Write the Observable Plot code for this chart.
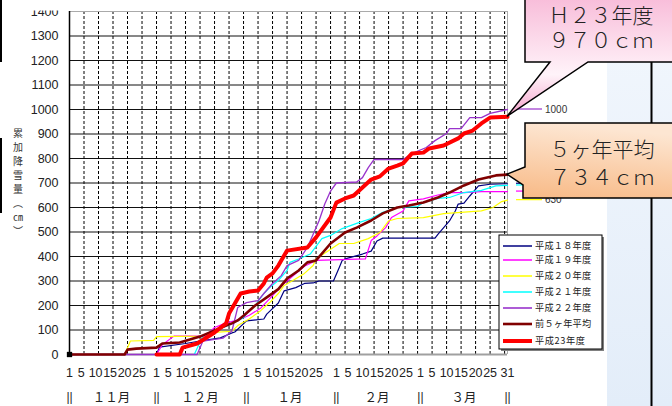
<!DOCTYPE html>
<html><head><meta charset="utf-8">
<script src="https://cdn.jsdelivr.net/npm/d3@7"></script>
<script src="https://cdn.jsdelivr.net/npm/@observablehq/plot@0.6"></script>
<style>
html,body{margin:0;padding:0;background:#fff;}
#chart{width:672px;height:406px;overflow:hidden;}
</style></head><body><div id="chart"></div>
<script>
// x = day index from Nov 1 (0) to Mar 31 (151)
const monthNames = ["１１月","１２月","１月","２月","３月"];
const monthStart = [0, 30, 61, 92, 121];
const monthLen = [30, 31, 31, 29, 31];
const dayLabels = [1, 5, 10, 15, 20, 25];
const yTicks = [0,100,200,300,400,500,600,700,800,900,1000,1100,1200,1300,1400];

const seriesNames = ["平成１８年度","平成１９年度","平成２０年度","平成２１年度","平成２２年度","前５ヶ年平均","平成23年度"];
const seriesColors = ["#000080","#ff00ff","#ffff00","#00ffff","#9933cc","#800000","#ff0000"];
const seriesWidths = [1.2,1.2,1.2,1.2,1.3,2.6,4];

const h18Days = [0,30,31,40,45,52,56,57,61,67,68,72,74,78,81,84,86,91,93,94,95,101,104,106,108,126,127,131,133,134,136,138,141,145,151];
const h18Vals = [0,0,30,45,55,68,88,92,137,145,165,210,260,273,290,292,300,300,355,384,390,410,422,463,475,475,490,545,586,614,618,647,688,695,697];

const h19Days = [0,30,32,36,47,50,54,58,62,66,70,74,78,81,85,102,104,106,109,111,115,117,122,127,131,136,142,151];
const h19Vals = [0,0,40,75,75,110,129,140,160,190,240,290,330,360,384,390,465,484,518,559,586,627,635,651,661,661,665,665];

const h20Days = [0,19,21,29,30,45,50,56,58,62,66,69,72,74,77,81,84,85,93,98,103,107,110,113,122,129,142,146,149,151];
const h20Vals = [0,0,55,58,73,75,90,95,118,145,180,212,249,282,302,331,363,390,453,453,473,498,545,555,559,575,586,600,624,630];

const h21Days = [0,43,46,50,55,60,62,64,67,69,72,75,76,79,83,87,90,94,99,104,108,113,120,122,127,131,136,142,147,151];
const h21Vals = [0,0,76,100,120,150,180,200,249,273,302,343,376,390,410,473,486,514,535,555,580,600,604,620,637,641,661,670,688,690];

const h22Days = [0,44,46,53,56,58,61,65,67,70,73,75,79,82,86,88,90,92,99,101,103,105,115,118,123,126,130,131,135,138,142,145,151];
const h22Vals = [0,0,55,67,96,192,212,220,249,290,322,363,384,437,545,614,667,700,704,722,763,796,796,820,845,873,902,922,922,967,967,984,1000];

const avgDays = [0,19,20,23,30,32,38,45,50,54,56,58,60,64,68,72,75,79,82,85,90,95,99,104,108,113,117,122,127,131,136,141,147,151];
const avgVals = [0,0,20,24,28,45,49,73,98,118,127,139,158,200,233,267,310,343,376,384,453,498,518,547,576,600,608,620,641,661,690,714,731,734];

const h23Days = [30,38,39,44,50,54,55,57,59,62,65,67,68,70,72,73,75,82,85,90,92,95,98,101,104,107,110,113,115,118,122,124,129,134,136,139,142,145,151];
const h23Vals = [0,0,28,45,90,127,167,208,249,257,261,290,314,331,363,384,424,437,478,559,620,637,649,682,714,727,759,771,780,820,824,841,853,882,902,914,943,967,970];

// visible end-of-season data labels
const endLabelSeries = [2, 4];
const endLabels = ["630", "1000"];
const calloutH23 = ["Ｈ２３年度", "９７０ｃｍ"];
const calloutAvg = ["５ヶ年平均", "７３４ｃｍ"];

const allDays = [h18Days,h19Days,h20Days,h21Days,h22Days,avgDays,h23Days];
const allVals = [h18Vals,h19Vals,h20Vals,h21Vals,h22Vals,avgVals,h23Vals];
const series = allDays.map((ds, k) => ds.map((d, i) => ({d, v: allVals[k][i], k})));

const xTickData = [];
monthStart.forEach((s, m) => dayLabels.forEach(dl => xTickData.push({d: s + dl - 1, t: String(dl)})));
xTickData.push({d: 151, t: "31"});
const monthData = monthNames.map((n, m) => ({d: monthStart[m] + monthLen[m] / 2 - 0.5, t: n}));
const sepData = [...monthStart, 151].map(d => ({d, t: "||"}));

const numFont = "'Liberation Sans', Arial, sans-serif";
const jpFont = "'Noto Sans CJK JP', sans-serif";

const plot = Plot.plot({
  width: 672, height: 406,
  marginLeft: 69, marginRight: 165, marginTop: 11, marginBottom: 52,
  style: {fontFamily: numFont, background: "white", overflow: "visible"},
  x: {domain: [0, 151], axis: null},
  y: {domain: [0, 1400], axis: null},
  marks: [
    Plot.ruleY(yTicks.filter(t => t > 0 && t < 1400), {stroke: "#111", strokeWidth: 1}),
    Plot.ruleX(d3.range(5, 151, 5), {stroke: "#000", strokeWidth: 1, strokeDasharray: "3,2"}),
    Plot.ruleY([1400], {stroke: "#aaa", strokeWidth: 1}),
    Plot.ruleX([151], {stroke: "#aaa", strokeWidth: 1}),
    Plot.ruleY([0], {stroke: "#a0a0a0", strokeWidth: 2}),
    Plot.ruleX([0], {stroke: "#000", strokeWidth: 1.5}),
    ...series.map((s, k) => Plot.line(s, {x: "d", y: "v", stroke: seriesColors[k], strokeWidth: seriesWidths[k], strokeLinejoin: "round"})),
    Plot.dot([0], {x: 0, y: 0, symbol: "square", fill: "#000", r: 3}),
    Plot.text(yTicks, {x: 0, y: d => d, text: d => String(d), dx: -11, textAnchor: "end", fontSize: 12.5, fill: "#222"}),
    Plot.text(xTickData, {x: "d", y: 0, text: "t", dy: 18, fontSize: 12.5, fill: "#222"}),
    Plot.text(monthData, {x: "d", y: 0, text: "t", dy: 43, fontSize: 12.5, fill: "#222", fontFamily: jpFont}),
    Plot.text(sepData, {x: "d", y: 0, text: "t", dy: 43, fontSize: 12, fill: "#222"})
  ]
});
document.getElementById("chart").appendChild(plot);

const svg = d3.select(plot);
const sx = v => plot.scale("x").apply(v), sy = v => plot.scale("y").apply(v);
const addText = (g, x, y, t, o = {}) => g.append("text").attr("x", x).attr("y", y)
  .attr("text-anchor", o.anchor || "start").attr("dy", o.dy || null)
  .attr("font-family", o.font || jpFont).attr("font-size", o.size || 10)
  .attr("font-weight", o.weight || null).attr("letter-spacing", o.ls || null)
  .attr("fill", o.fill || "#222").text(t);
const addLines = (x, y, lines, lh) => {
  const t = svg.append("text").attr("text-anchor", "middle").attr("font-family", jpFont)
    .attr("font-size", 21).attr("font-weight", 300).attr("fill", "#222");
  lines.forEach((l, i) => t.append("tspan").attr("x", x).attr("y", y + i * lh).text(l));
};

// cut the very top (chart cropped from a slide)
svg.append("rect").attr("x", 20).attr("y", 0).attr("width", 50).attr("height", 10.5).attr("fill", "#fff");
// slide decorations on the left
svg.append("rect").attr("x", 0).attr("y", 0).attr("width", 2).attr("height", 62).attr("fill", "#000");
svg.append("rect").attr("x", 0).attr("y", 138).attr("width", 2).attr("height", 75).attr("fill", "#000");

// y-axis title (vertical)
const titleChars = ["累","加","降","雪","量","︵","㎝","︶"];
titleChars.forEach((c, i) => addText(svg, 18, 133 + i * 14.1, c, {anchor: "middle", dy: "0.35em", size: 10, fill: "#333"}));

// right panel
const defs = svg.append("defs");
const gp = defs.append("linearGradient").attr("id", "gpanel").attr("x1", 0).attr("y1", 0).attr("x2", 0).attr("y2", 1);
gp.append("stop").attr("offset", 0).attr("stop-color", "#f2f7fd");
gp.append("stop").attr("offset", 1).attr("stop-color", "#e3edf9");
svg.append("rect").attr("x", 607).attr("y", 0).attr("width", 65).attr("height", 406).attr("fill", "url(#gpanel)");
svg.append("rect").attr("x", 650.5).attr("y", 0).attr("width", 2).attr("height", 406).attr("fill", "#000");

// end-of-season leader lines and labels (the ones under the callout are hidden in the original)
[0,1,2,3,4].forEach(k => {
  const v = allVals[k][allVals[k].length - 1];
  const y = sy(v), x = sx(151);
  svg.append("line").attr("x1", x + 9).attr("x2", x + 35).attr("y1", y).attr("y2", y).attr("stroke", seriesColors[k]).attr("stroke-width", 1.2);
});
endLabelSeries.forEach((k, i) => {
  const v = allVals[k][allVals[k].length - 1];
  addText(svg, sx(151) + 38, sy(v), endLabels[i], {dy: "0.35em", font: numFont, size: 10, fill: "#333"});
});

// legend
const lg = svg.append("g");
lg.append("rect").attr("x", 501).attr("y", 237).attr("width", 103).attr("height", 114).attr("fill", "#808080");
lg.append("rect").attr("x", 499).attr("y", 235).attr("width", 103).attr("height", 114).attr("fill", "#fff").attr("stroke", "#000").attr("stroke-width", 1);
const rowsY = [246, 260, 276, 292, 308, 324, 341];
seriesNames.forEach((n, k) => {
  lg.append("line").attr("x1", 503).attr("x2", 532).attr("y1", rowsY[k]).attr("y2", rowsY[k]).attr("stroke", seriesColors[k]).attr("stroke-width", Math.min(seriesWidths[k] + (k < 5 ? 0.3 : 0), 4));
  addText(lg, 535, rowsY[k], n, {dy: "0.36em", size: 9.2, ls: k === 6 ? 0.6 : 0.2});
});

// callout gradients
const gpink = defs.append("linearGradient").attr("id", "gpink").attr("x1", 0).attr("y1", 0).attr("x2", 0).attr("y2", 1);
gpink.append("stop").attr("offset", 0).attr("stop-color", "#f8bcd9");
gpink.append("stop").attr("offset", 0.65).attr("stop-color", "#fff3f9");
gpink.append("stop").attr("offset", 1).attr("stop-color", "#f5a2cb");
const gorg = defs.append("linearGradient").attr("id", "gorg").attr("x1", 0.2).attr("y1", 0).attr("x2", 0).attr("y2", 1);
gorg.append("stop").attr("offset", 0).attr("stop-color", "#fde6d2");
gorg.append("stop").attr("offset", 1).attr("stop-color", "#f8b985");

// H23 callout
const t1x = sx(151), t1y = sy(970);
svg.append("path").attr("d", `M525,-3 L525,62 L550,62 L${t1x},${t1y} L588,62 L676,62 L676,-3 Z`)
  .attr("fill", "url(#gpink)").attr("stroke", "#000").attr("stroke-width", 1.5);
addLines(601, 23, calloutH23, 25);

// 5-year average callout
const t2x = sx(151), t2y = sy(734);
svg.append("path").attr("d", `M525,123 L525,167 L${t2x},${t2y} L523,185 L523,198 L676,198 L676,123 Z`)
  .attr("fill", "url(#gorg)").attr("stroke", "#000").attr("stroke-width", 1.5);
addLines(602, 157, calloutAvg, 28);
</script></body></html>
